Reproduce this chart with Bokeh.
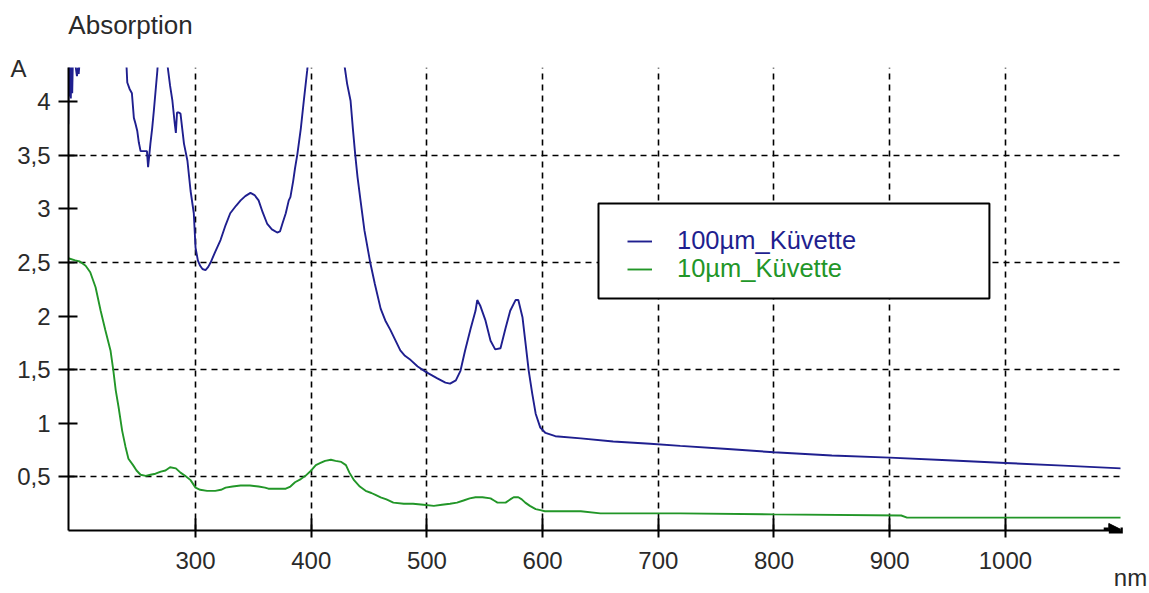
from bokeh.plotting import figure
from bokeh.models import (Range1d, FixedTicker, Legend, LegendItem, LinearAxis,
                          BoxAnnotation, Arrow, NormalHead)
from bokeh.embed import file_html
from bokeh.resources import INLINE

# ---------------- data ----------------
nm_100 = [190, 190.5, 191, 191.6, 192.2, 192.8, 193.4, 194, 196.5, 197.5, 198.5, 199, 200,
          205, 220, 238, 240.4, 241, 243, 245, 246.7, 248, 249.6, 251, 252.5, 255, 258, 259,
          261, 262.5, 264, 267, 268, 272, 275, 276, 278, 280, 282, 283, 284, 285.5, 287, 288.5,
          290, 293, 295.7, 298.5, 300, 302, 304, 306, 308.6, 311, 313, 317, 321.6, 326, 330,
          335, 339, 343, 347.5, 351, 354.5, 358, 362, 366, 370.6, 373, 375, 378, 380.6, 382,
          384.4, 386, 388, 391, 393.6, 396.5, 398, 410, 425, 429, 431, 434, 436, 438, 440,
          442.6, 446, 451, 455, 460, 464, 468.5, 473, 477, 481, 486, 492, 499, 504, 509, 516,
          520, 525, 529, 533, 537.7, 542, 543.5, 546, 550.6, 555, 559, 563.6, 568, 572, 576.6,
          579, 582.6, 585, 588, 591, 594, 598, 602.5, 611, 633, 661, 693, 719, 760, 800, 850,
          900, 950, 1000, 1050, 1100]
abs_100 = [3.79, 4.40, 4.05, 4.40, 4.03, 4.40, 4.08, 4.40, 4.32, 4.24, 4.32, 4.26, 4.40,
           4.5, 4.5, 4.5, 4.32, 4.18, 4.12, 4.08, 3.85, 3.80, 3.73, 3.62, 3.54, 3.54, 3.54, 3.39,
           3.61, 3.75, 3.92, 4.29, 4.45, 4.5, 4.45, 4.32, 4.15, 4.01, 3.80, 3.71, 3.90, 3.90, 3.89, 3.75,
           3.61, 3.45, 3.17, 2.96, 2.64, 2.52, 2.47, 2.44, 2.43, 2.46, 2.50, 2.60, 2.71, 2.85, 2.96,
           3.03, 3.08, 3.12, 3.15, 3.13, 3.08, 2.97, 2.86, 2.81, 2.78, 2.79, 2.86, 2.96, 3.08, 3.11,
           3.26, 3.38, 3.51, 3.75, 4.01, 4.29, 4.45, 4.5, 4.5, 4.32, 4.17, 4.01, 3.75, 3.51, 3.30,
           3.08, 2.80, 2.50, 2.30, 2.07, 1.96, 1.87, 1.77, 1.68, 1.63, 1.59, 1.53, 1.48, 1.45, 1.42, 1.38,
           1.37, 1.40, 1.49, 1.68, 1.88, 2.05, 2.15, 2.10, 1.96, 1.77, 1.69, 1.70, 1.89, 2.05, 2.15,
           2.15, 1.99, 1.77, 1.49, 1.28, 1.09, 0.96, 0.91, 0.88, 0.86, 0.83, 0.81, 0.79, 0.76, 0.73, 0.70,
           0.68, 0.655, 0.63, 0.605, 0.58]

nm_10 = [190, 196, 200, 205, 209, 213.6, 218, 222, 226.5, 229, 231, 233.5, 236.6, 239.5, 242,
         246, 249, 252.5, 257, 261, 265.4, 270, 274, 278, 283, 287, 291, 295.7, 300, 304, 310,
         317, 322, 326, 332, 339, 347, 354.5, 360, 363, 370, 378, 382, 386, 391, 395, 400, 404,
         408, 412, 417, 421, 426, 430, 433, 437, 442, 447, 452, 456, 460, 465, 471, 480, 488,
         497, 506, 513, 520, 526, 531.6, 537, 542, 548, 555, 558, 561, 565, 568, 572, 575, 579,
         582, 585, 589, 594, 598, 602, 633, 650, 719, 800, 910, 915, 1100]
abs_10 = [2.54, 2.52, 2.51, 2.47, 2.41, 2.27, 2.05, 1.87, 1.68, 1.49, 1.31, 1.15, 0.93, 0.78, 0.67,
          0.61, 0.56, 0.52, 0.51, 0.52, 0.53, 0.55, 0.56, 0.59, 0.58, 0.54, 0.51, 0.47, 0.40, 0.38, 0.37,
          0.37, 0.38, 0.40, 0.41, 0.42, 0.42, 0.41, 0.40, 0.39, 0.39, 0.39, 0.41, 0.45, 0.48, 0.51, 0.56, 0.61,
          0.63, 0.65, 0.66, 0.65, 0.64, 0.61, 0.54, 0.47, 0.41, 0.37, 0.35, 0.33, 0.31, 0.29, 0.26, 0.25, 0.25,
          0.24, 0.23, 0.24, 0.25, 0.26, 0.28, 0.30, 0.31, 0.31, 0.30, 0.28, 0.26, 0.26, 0.26, 0.29, 0.31, 0.31,
          0.29, 0.26, 0.23, 0.20, 0.19, 0.18, 0.18, 0.16, 0.16, 0.15, 0.14, 0.12, 0.12]

series_names = ["100µm_Küvette", "10µm_Küvette"]
x_ticks = [300, 400, 500, 600, 700, 800, 900, 1000]
y_ticks = [0.5, 1, 1.5, 2, 2.5, 3, 3.5, 4]
y_tick_labels = ["0,5", "1", "1,5", "2", "2,5", "3", "3,5", "4"]
y_grid = [0.5, 1.5, 2.5, 3.5]
y_unit_pos = 4.31
y_unit = "A"
x_unit_pos = 1099.5
x_unit = "\u00a0\u00a0\u00a0nm"
title_pos = 243.8
y_title = "Absorption"

BLUE = "#1f1f8f"
GREEN = "#229628"
TXT = "#2a2a2a"
FONT = "Liberation Sans"
FS = "24px"

p = figure(width=1149, height=593, output_backend="svg", toolbar_location=None, title=None,
           x_range=Range1d(190.2, 1099.5), y_range=Range1d(0, 4.32),
           min_border_left=68, min_border_right=29, min_border_top=67, min_border_bottom=63)
p.outline_line_color = None
p.background_fill_color = "white"
p.border_fill_color = "white"

r1 = p.line(nm_100, abs_100, line_color=BLUE, line_width=1.9)
r2 = p.line(nm_10, abs_10, line_color=GREEN, line_width=1.9)


def text_axis(ticks, labels, standoff, size=FS, line_height=1.2):
    return LinearAxis(ticker=FixedTicker(ticks=ticks),
                      major_label_overrides=dict(zip(ticks, labels)),
                      axis_line_color=None, major_tick_line_color=None,
                      minor_tick_line_color=None, major_tick_in=0, major_tick_out=0,
                      major_label_standoff=standoff, major_label_text_font=FONT,
                      major_label_text_font_size=size, major_label_text_color=TXT,
                      major_label_text_line_height=line_height)


# main axes
for ax in (p.xaxis[0], p.yaxis[0]):
    ax.axis_line_color = "black"
    ax.axis_line_width = 2
    ax.major_tick_line_color = "black"
    ax.major_tick_line_width = 2
    ax.minor_tick_line_color = None
    ax.major_label_text_font = FONT
    ax.major_label_text_font_size = FS
    ax.major_label_text_color = TXT

p.xaxis.ticker = FixedTicker(ticks=x_ticks)
p.xaxis.major_tick_in = 12
p.xaxis.major_tick_out = 7
p.xaxis.major_label_standoff = 14

p.yaxis.ticker = FixedTicker(ticks=y_ticks)
p.yaxis.major_label_overrides = {t: l for t, l in zip(y_ticks, y_tick_labels)}
p.yaxis.major_tick_in = 9
p.yaxis.major_tick_out = 10
p.yaxis.major_label_standoff = 8

# unit "A" at top of y axis, "nm" at end of x axis, "Absorption" above
p.add_layout(text_axis([y_unit_pos], [y_unit], -12), "left")
p.add_layout(text_axis([x_unit_pos], [x_unit], -8, line_height=0.7), "below")
p.add_layout(text_axis([title_pos], [y_title], 28, "26px"), "above")

p.xgrid.ticker = FixedTicker(ticks=x_ticks)
p.ygrid.ticker = FixedTicker(ticks=y_grid)
for g in (p.xgrid[0], p.ygrid[0]):
    g.grid_line_color = "black"
    g.grid_line_width = 1.6
    g.grid_line_dash = "6 5"

# arrow at end of x axis
p.add_layout(Arrow(end=NormalHead(size=14, fill_color="black", line_color="black"),
                   x_start=1085, y_start=0, x_end=1101.5, y_end=0,
                   line_color="black", line_width=6))

# legend box + two legends (for coloured labels)
p.add_layout(BoxAnnotation(left=648.3, right=986.2, top=3.05, bottom=2.164,
                           fill_color="white", fill_alpha=1, line_color="black",
                           line_alpha=1, line_width=2))
for r, name, col, loc in ((r1, series_names[0], BLUE, (559, 275)),
                          (r2, series_names[1], GREEN, (559, 247))):
    lg = Legend(items=[LegendItem(label=name, renderers=[r])], location=loc,
                label_text_color=col, label_text_font=FONT, label_text_font_size="25.5px",
                glyph_width=25, glyph_height=28, label_height=28, label_standoff=25,
                padding=0, margin=0, spacing=0, border_line_alpha=0,
                background_fill_alpha=0)
    p.add_layout(lg)

open("out.html", "w").write(file_html(p, INLINE))
